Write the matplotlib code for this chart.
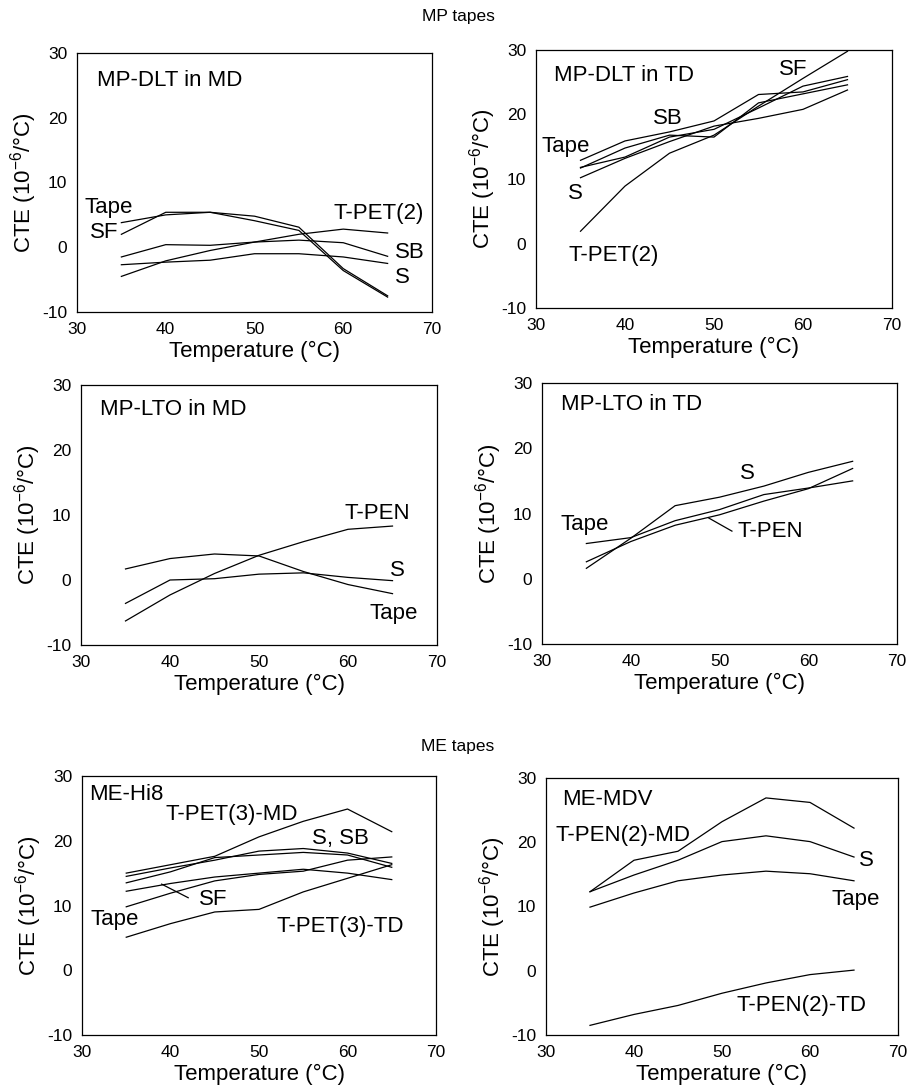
import matplotlib
matplotlib.use('Agg')
from matplotlib import pyplot as plt

plt.rcParams['font.family'] = ['Liberation Sans', 'DejaVu Sans']
plt.rcParams['axes.unicode_minus'] = False
plt.rcParams['mathtext.fontset'] = 'custom'
plt.rcParams['mathtext.rm'] = 'Liberation Sans'
plt.rcParams['mathtext.default'] = 'regular'

temps = [35, 40, 45, 50, 55, 60, 65]

# MP-DLT in MD
dlt_md_tape = [3.8, 5.0, 5.4, 4.8, 3.1, -3.3, -7.5]
dlt_md_sf = [2.0, 5.4, 5.4, 4.1, 2.6, -3.6, -7.7]
dlt_md_tpet2 = [-4.5, -2.1, -0.5, 0.8, 2.0, 2.8, 2.2]
dlt_md_sb = [-1.5, 0.4, 0.3, 0.8, 1.1, 0.7, -1.4]
dlt_md_s = [-2.7, -2.3, -2.0, -1.0, -1.0, -1.5, -2.5]

# MP-DLT in TD
dlt_td_tape = [12.9, 15.9, 17.3, 19.0, 23.1, 23.5, 25.4]
dlt_td_sb = [11.8, 13.4, 16.5, 17.7, 21.0, 24.4, 25.9]
dlt_td_s = [10.2, 13.2, 15.8, 18.2, 19.4, 20.8, 23.8]
dlt_td_sf = [11.7, 14.8, 16.8, 16.5, 21.8, 23.2, 24.6]
dlt_td_tpet2 = [1.9, 8.9, 14.0, 16.8, 21.3, 25.6, 29.8]

# MP-LTO in MD
lto_md_tpen = [-6.3, -2.3, 1.0, 3.8, 5.9, 7.8, 8.3]
lto_md_s = [-3.6, 0.0, 0.2, 0.9, 1.1, 0.4, -0.1]
lto_md_tape = [1.7, 3.3, 4.0, 3.7, 1.3, -0.7, -2.1]

# MP-LTO in TD
lto_td_s = [1.6, 6.2, 11.2, 12.5, 14.2, 16.3, 18.0]
lto_td_tape = [5.4, 6.3, 8.9, 10.6, 12.9, 13.9, 15.0]
lto_td_tpen = [2.6, 5.7, 8.2, 9.8, 11.9, 13.8, 16.9]

# ME-Hi8
hi8_tpet3_md = [15.0, 16.3, 17.6, 20.6, 23.0, 24.9, 21.4]
hi8_s = [14.5, 15.8, 17.0, 18.4, 18.8, 18.1, 16.5]
hi8_sb = [13.5, 15.2, 17.4, 17.8, 18.2, 17.8, 15.9]
hi8_sf = [12.2, 13.4, 14.4, 15.0, 15.6, 15.0, 14.0]
hi8_tape = [9.8, 11.9, 13.8, 14.8, 15.3, 17.0, 17.5]
hi8_tpet3_td = [5.1, 7.2, 9.0, 9.4, 12.1, 14.2, 16.3]

# ME-MDV
mdv_tpen2_md = [12.3, 17.2, 18.6, 23.2, 26.9, 26.2, 22.2]
mdv_s = [12.3, 14.9, 17.2, 20.1, 21.0, 20.1, 17.7]
mdv_tape = [9.9, 12.1, 14.0, 14.9, 15.5, 15.1, 14.0]
mdv_tpen2_td = [-8.5, -6.8, -5.4, -3.5, -1.9, -0.6, 0.1]

W, H = 907, 1092
FS = 16


def make_ax(fig, l, t, r, b):
    return fig.add_axes([l / W, 1 - b / H, (r - l) / W, (b - t) / H])


panels = [
    ((77, 53, 432, 312), 'MP-DLT in MD', (32.2, 25.8),
     [dlt_md_tape, dlt_md_sf, dlt_md_tpet2, dlt_md_sb, dlt_md_s],
     [('Tape', 30.8, 6.2), ('SF', 31.5, 2.3), ('T-PET(2)', 58.9, 5.2),
      ('SB', 65.8, -0.8), ('S', 65.8, -4.6)]),
    ((536, 50, 892, 308), 'MP-DLT in TD', (32.0, 26.1),
     [dlt_td_tape, dlt_td_sb, dlt_td_s, dlt_td_sf, dlt_td_tpet2],
     [('SF', 57.3, 26.9), ('SB', 43.1, 19.4), ('Tape', 30.6, 15.0),
      ('S', 33.6, 7.8), ('T-PET(2)', 33.6, -1.8)]),
    ((81, 385, 437, 645), 'MP-LTO in MD', (32.1, 26.2),
     [lto_md_tpen, lto_md_s, lto_md_tape],
     [('T-PEN', 59.6, 10.3), ('S', 64.7, 1.5), ('Tape', 62.4, -5.1)]),
    ((542, 383, 897, 644), 'MP-LTO in TD', (32.1, 26.7),
     [lto_td_s, lto_td_tape, lto_td_tpen],
     [('S', 52.3, 16.1), ('Tape', 32.1, 8.3), ('T-PEN', 52.0, 7.2)]),
    ((82, 776, 436, 1035), 'ME-Hi8', (30.75, 27.1),
     [hi8_tpet3_md, hi8_s, hi8_sb, hi8_sf, hi8_tape, hi8_tpet3_td],
     [('T-PET(3)-MD', 39.4, 24.0), ('S, SB', 56.0, 20.4), ('SF', 43.2, 11.0),
      ('Tape', 31.0, 7.8), ('T-PET(3)-TD', 52.0, 6.7)]),
    ((546, 778, 898, 1035), 'ME-MDV', (31.8, 26.6),
     [mdv_tpen2_md, mdv_s, mdv_tape, mdv_tpen2_td],
     [('T-PEN(2)-MD', 31.1, 21.0), ('S', 65.6, 17.2), ('Tape', 62.4, 11.1),
      ('T-PEN(2)-TD', 51.7, -5.4)]),
]

fig = plt.figure(figsize=(W / 100, H / 100), dpi=100)

for box, title, tpos, series, labels in panels:
    ax = make_ax(fig, *box)
    for ys in series:
        ax.plot(temps, ys, color='black', lw=0.9)
    ax.set_xlim(30, 70)
    ax.set_ylim(-10, 30)
    ax.set_xticks([30, 40, 50, 60, 70])
    ax.set_yticks([-10, 0, 10, 20, 30])
    ax.tick_params(length=0, pad=7, labelsize=12.5)
    for sp in ax.spines.values():
        sp.set_linewidth(0.9)
    ax.set_xlabel('Temperature (°C)', fontsize=FS, labelpad=3)
    ax.set_ylabel('CTE (10$^{-6}$/°C)', fontsize=FS, labelpad=2)
    ax.text(tpos[0], tpos[1], title, fontsize=FS, va='center', ha='left')
    for txt, x, y in labels:
        ax.text(x, y, txt, fontsize=FS, va='center', ha='left')
    if title == 'MP-LTO in TD':
        ax.plot([48.8, 51.4], [9.3, 7.3], color='black', lw=0.9)
    if title == 'ME-Hi8':
        ax.plot([39.0, 42.0], [13.3, 11.2], color='black', lw=0.9)

fig.text(458 / W, 1 - 16 / H, 'MP tapes', ha='center', va='center', fontsize=12.5)
fig.text(458 / W, 1 - 746 / H, 'ME tapes', ha='center', va='center', fontsize=12.5)

plt.savefig('out.png', dpi=100)
